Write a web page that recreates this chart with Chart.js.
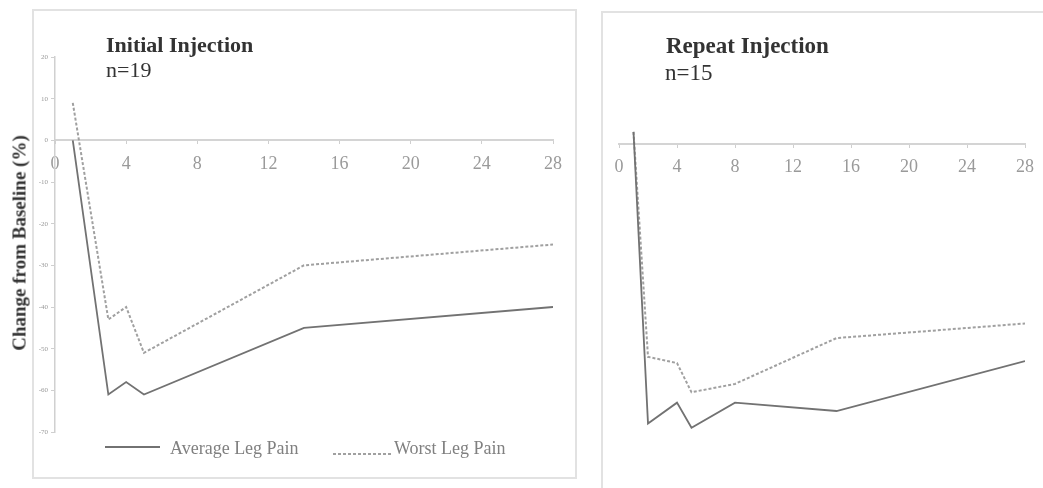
<!DOCTYPE html>
<html>
<head>
<meta charset="utf-8">
<script src="https://cdn.jsdelivr.net/npm/chart.js@4.4.1/dist/chart.umd.min.js"></script>
<style>
  html, body { margin:0; padding:0; background:#fff; }
  body { width:1043px; height:488px; position:relative; overflow:hidden; font-family:"Liberation Serif", serif; }
  .panel { position:absolute; border:2px solid #e2e2e2; box-sizing:border-box; }
  .wrap { position:absolute; }
  .txt { position:absolute; white-space:nowrap; color:#333; }
</style>
</head>
<body>
<div class="panel" style="left:32px; top:9px; width:545px; height:470px;"></div>
<div class="panel" style="left:601px; top:11px; width:460px; height:500px;"></div>

<div class="wrap" style="left:0; top:0; width:580px; height:488px;"><canvas id="c1"></canvas></div>
<div class="wrap" style="left:590px; top:0; width:453px; height:488px;"><canvas id="c2"></canvas></div>

<div class="txt" style="left:106px; top:34px; font-size:22px; line-height:22px; font-weight:bold;">Initial Injection</div>
<div class="txt" style="left:106px; top:59px; font-size:22px; line-height:22px;">n=19</div>
<div class="txt" style="left:666px; top:34px; font-size:23px; line-height:23px; font-weight:bold;">Repeat Injection</div>
<div class="txt" style="left:665px; top:61px; font-size:23px; line-height:23px;">n=15</div>
<div class="txt" style="left:19px; top:243px; font-size:19px; line-height:19px; font-weight:bold; transform:translate(-50%,-50%) rotate(-90deg);">Change from Baseline (%)</div>

<script>
// ---- data ----
const seriesLabels = ['Average Leg Pain', 'Worst Leg Pain'];

const initialDays  = [1, 3, 4, 5, 14, 28];
const initialAvg   = [0, -61, -58, -61, -45, -40];
const initialWorst = [9, -43, -40, -51, -30, -25];

const repeatDays   = [1, 2, 4, 5, 8, 15, 28];
const repeatAvg    = [3, -67, -62, -68, -62, -64, -52];
const repeatWorst  = [3, -51, -52.5, -59.5, -57.5, -46.5, -43];

const xTickValues = [0, 4, 8, 12, 16, 20, 24, 28];
const yTickValues = [20, 10, 0, -10, -20, -30, -40, -50, -60, -70];

// ---- helpers ----
const FONT = 'Liberation Serif';
const toPoints = (xs, ys) => xs.map((x, i) => ({x: x, y: ys[i]}));

const avgStyle = { borderColor:'#727272', borderWidth:1.8, borderDash:[], pointRadius:0, tension:0, fill:false };
const worstStyle = { borderColor:'#a0a0a0', borderWidth:2, borderDash:[3,2], pointRadius:0, tension:0, fill:false };

const refLegend = {
  id: 'refLegend',
  afterDraw(chart, args, opts) {
    if (!opts || !opts.items) return;
    const ctx = chart.ctx;
    ctx.save();
    opts.items.forEach((it, i) => {
      const ds = chart.data.datasets[i];
      ctx.beginPath();
      ctx.strokeStyle = it.lineColor || ds.borderColor;
      ctx.lineWidth = ds.borderWidth;
      ctx.setLineDash(ds.borderDash || []);
      ctx.moveTo(it.x0, it.lineY);
      ctx.lineTo(it.x1, it.lineY);
      ctx.stroke();
      ctx.setLineDash([]);
      ctx.fillStyle = opts.color;
      ctx.font = opts.font;
      ctx.textBaseline = 'alphabetic';
      ctx.textAlign = 'left';
      ctx.fillText(ds.label, it.textX, opts.baseline);
    });
    ctx.restore();
  }
};

function makeChart(id, days, avg, worst, cfg) {
  return new Chart(document.getElementById(id), {
    type: 'line',
    data: {
      datasets: [
        Object.assign({ label: seriesLabels[0], data: toPoints(days, avg) }, avgStyle),
        Object.assign({ label: seriesLabels[1], data: toPoints(days, worst) }, worstStyle)
      ]
    },
    options: {
      responsive: true,
      maintainAspectRatio: false,
      animation: false,
      layout: { padding: cfg.padding },
      plugins: {
        legend: { display: false },
        tooltip: { enabled: false },
        refLegend: cfg.legend || {}
      },
      scales: {
        x: {
          type: 'linear',
          position: { y: 0 },
          min: 0, max: 28,
          afterBuildTicks: s => { s.ticks = xTickValues.map(v => ({value: v})); },
          grid: { drawOnChartArea: false, drawTicks: true, tickLength: 3, color: '#cfcfcf', lineWidth: 1 },
          border: { display: true, color: '#d4d4d4', width: 2 },
          ticks: { color: '#9a9a9a', font: { family: FONT, size: 18 }, padding: cfg.xPad, maxRotation: 0, autoSkip: false }
        },
        y: {
          type: 'linear',
          display: cfg.showY,
          min: -70, max: 20,
          afterBuildTicks: s => { s.ticks = yTickValues.map(v => ({value: v})); },
          afterFit: s => { s.width = cfg.showY ? 22 : 0; },
          grid: { drawOnChartArea: false, drawTicks: true, tickLength: 4, color: '#cfcfcf' },
          border: { display: true, color: '#d0d0d0', width: 1.5 },
          ticks: { color: '#999999', font: { family: FONT, size: 7 }, padding: 3, autoSkip: false }
        }
      }
    },
    plugins: [refLegend]
  });
}

makeChart('c1', initialDays, initialAvg, initialWorst, {
  showY: true,
  xPad: 10,
  padding: { left: 33, right: 27, top: 57, bottom: 56 },
  legend: {
    font: '18px "Liberation Serif"',
    color: '#808080',
    baseline: 454,
    items: [
      { x0: 105, x1: 160, lineY: 447, textX: 170 },
      { x0: 333, x1: 392, lineY: 454, textX: 394 }
    ]
  }
});

makeChart('c2', repeatDays, repeatAvg, repeatWorst, {
  showY: false,
  xPad: 9,
  padding: { left: 29, right: 11, top: 61, bottom: 52 }
});
</script>
</body>
</html>
